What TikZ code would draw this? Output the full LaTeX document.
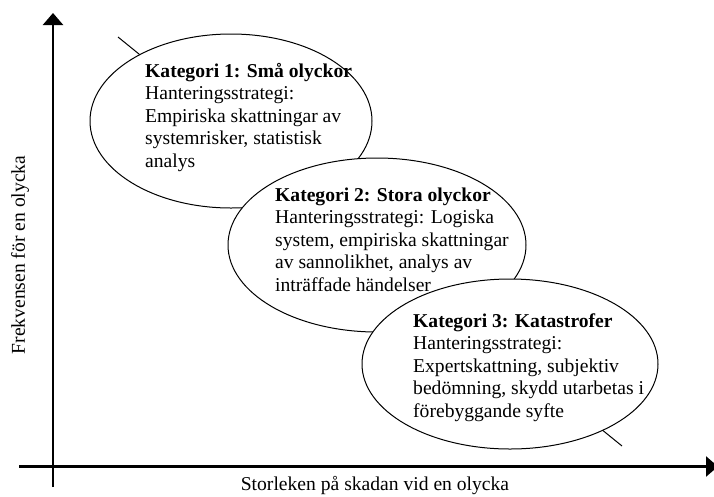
\documentclass[tikz,border=0pt]{standalone}
\usepackage{fontspec}
\setmainfont{Liberation Serif}
\usetikzlibrary{shapes.geometric,arrows.meta}
\begin{document}
\begin{tikzpicture}[x=1pt, y=-1pt, font=\fontsize{19.6}{22.5}\selectfont,
	ell/.style={ellipse, draw=black, line width=1pt, fill=white, inner sep=0pt},
	txt/.style={anchor=base west, align=left, inner sep=0pt},
	axis/.style={line width=2.4pt, -{Triangle[length=12pt,width=20pt]}}]
	\useasboundingbox (0,0) rectangle (714,496);
	\coordinate (lt) at (118,37);
	\coordinate (rb) at (622,446);
	\draw[line width=1pt] (lt) -- (rb);
	\node[ell, minimum width=282pt, minimum height=174pt] (e1) at (231,121) {};
	\node[ell, minimum width=298pt, minimum height=174pt] (e2) at (377,245) {};
	\node[ell, minimum width=296pt, minimum height=170pt] (e3) at (510,364) {};
	\node[txt] (t1) at (145,167) {\textbf{Kategori 1: Små olyckor}\\Hanteringsstrategi:\\Empiriska skattningar av\\systemrisker, statistisk\\analys};
	\node[txt] (t2) at (275,291) {\textbf{Kategori 2: Stora olyckor}\\Hanteringsstrategi: Logiska\\system, empiriska skattningar\\av sannolikhet, analys av\\inträffade händelser};
	\node[txt] (t3) at (413,417) {\textbf{Kategori 3: Katastrofer}\\Hanteringsstrategi:\\Expertskattning, subjektiv\\bedömning, skydd utarbetas i\\förebyggande syfte};
	\coordinate (xs) at (19,466.5);
	\coordinate (xe) at (718,466.5);
	\coordinate (ys) at (53,487);
	\coordinate (ye) at (53,13);
	\draw[axis] (xs) -- (xe);
	\draw[axis] (ys) -- (ye);
	\node (xlab) at (375,486) {Storleken på skadan vid en olycka};
	\node[rotate=90] (ylab) at (20,255) {Frekvensen för en olycka};
\end{tikzpicture}
\end{document}
